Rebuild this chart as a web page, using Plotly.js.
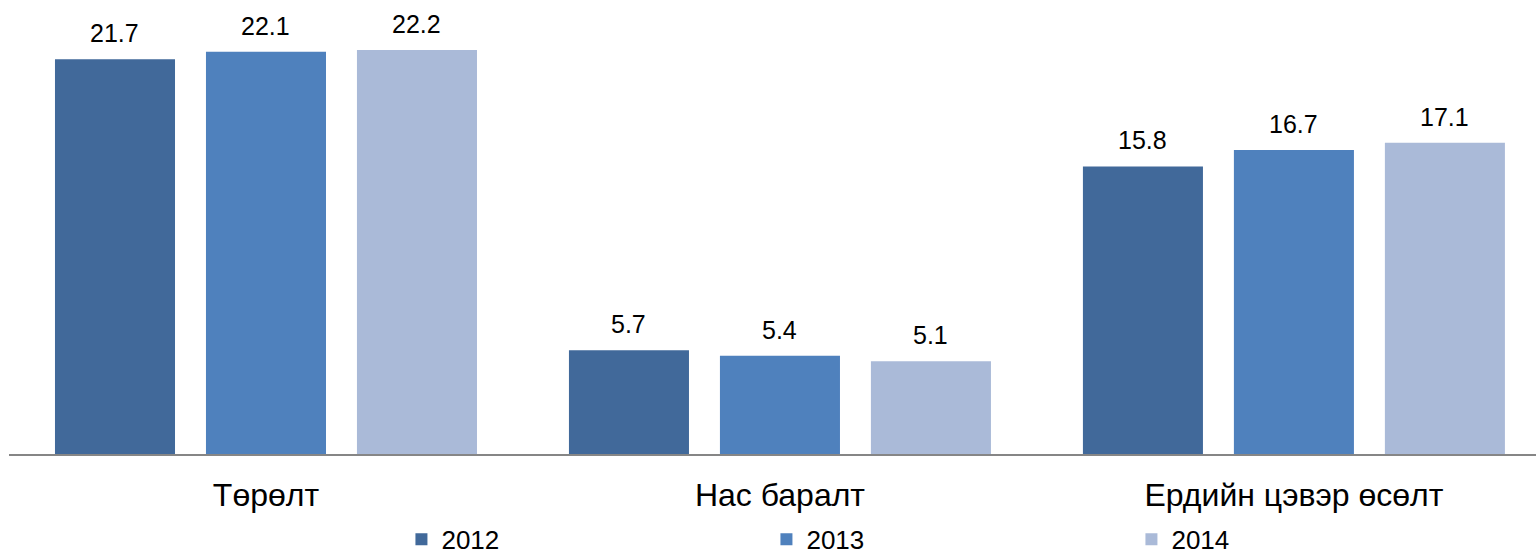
<!DOCTYPE html>
<html>
<head>
<meta charset="utf-8">
<script src="https://cdn.plot.ly/plotly-3.0.1.min.js"></script>
<style>html,body{margin:0;padding:0;background:#fff;}#chart{width:1536px;height:553px;}</style>
</head>
<body>
<div id="chart"></div>
<script>
const categories = ["Төрөлт", "Нас баралт", "Ердийн цэвэр өсөлт"];
const seriesNames = ["2012", "2013", "2014"];
const values2012 = [21.7, 5.7, 15.8];
const values2013 = [22.1, 5.4, 16.7];
const values2014 = [22.2, 5.1, 17.1];
const colors = ["#41699A", "#4F81BD", "#AABAD8"];

const allValues = [values2012, values2013, values2014];
const FONT = "Liberation Sans, Arial, sans-serif";

const traces = allValues.map((vals, i) => ({
  type: "bar",
  name: seriesNames[i],
  x: categories,
  y: vals,
  marker: { color: colors[i] },
  hoverinfo: "none"
}));

const annotations = [];
allValues.forEach((vals, i) => {
  vals.forEach((v, j) => {
    annotations.push({
      x: categories[j], y: v, xref: "x", yref: "y",
      text: v.toFixed(1), showarrow: false,
      xanchor: "center", yanchor: "bottom",
      xshift: (i - 1) * 151, yshift: 10,
      font: { family: FONT, size: 25, color: "#000" }
    });
  });
});

const layout = {
  width: 1536, height: 553,
  margin: { l: 9, r: 0, t: 10, b: 99, autoexpand: false },
  paper_bgcolor: "#fff", plot_bgcolor: "#fff",
  barmode: "group",
  bargap: 0.1187,
  bargroupgap: 0.205,
  showlegend: true,
  legend: {
    orientation: "h", x: 0.257, xanchor: "left", y: -0.192, yanchor: "middle",
    font: { family: FONT, size: 26, color: "#000" },
    entrywidth: 320, entrywidthmode: "pixels",
    itemwidth: 30, traceorder: "normal",
    tracegroupgap: 0, borderwidth: 0
  },
  xaxis: {
    type: "category",
    range: [-0.5, 2.471],
    showline: true, linecolor: "#868686", linewidth: 2,
    ticks: "", showgrid: false, zeroline: false,
    tickfont: { family: FONT, size: 32, color: "#000" },
    ticklabelstandoff: 12
  },
  yaxis: {
    range: [0, 24.4],
    visible: false, showgrid: false, zeroline: false
  },
  annotations: annotations
};

Plotly.newPlot("chart", traces, layout, { staticPlot: true, displayModeBar: false });
</script>
</body>
</html>
